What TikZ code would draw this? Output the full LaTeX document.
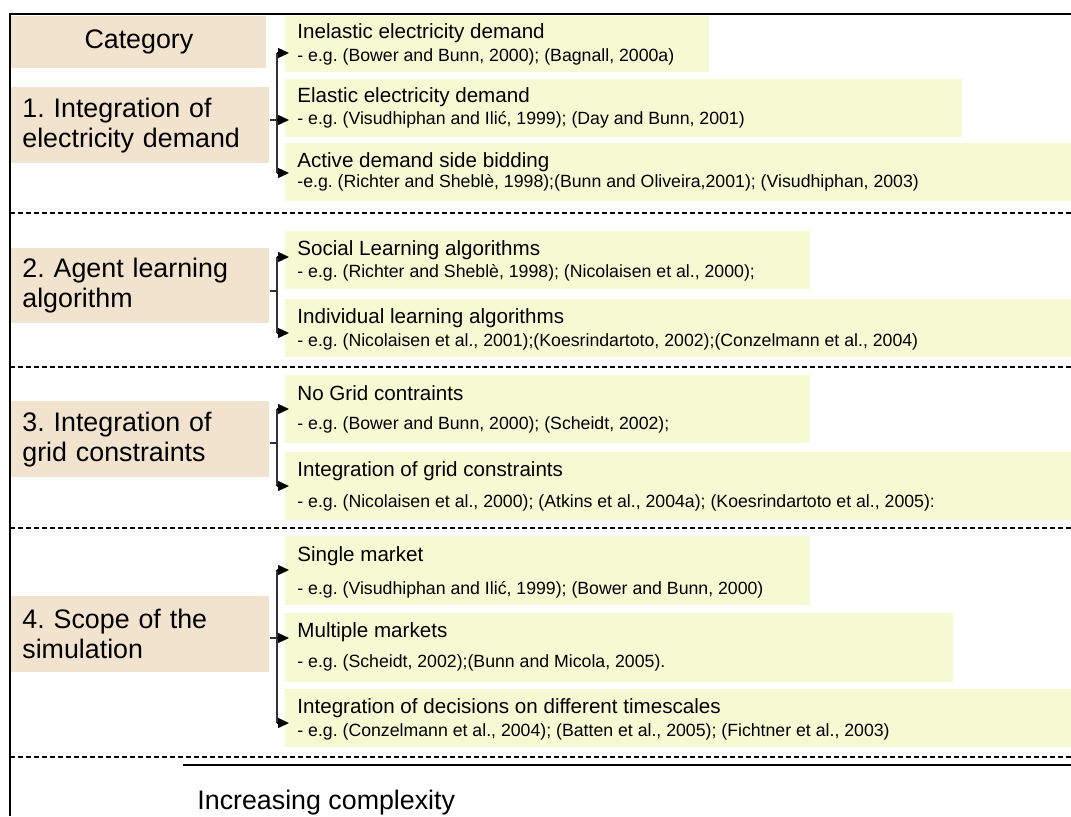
\documentclass[tikz,border=0pt]{standalone}
\usepackage{fontspec}
\setmainfont{Liberation Sans}
\usetikzlibrary{arrows.meta}
\definecolor{tanbox}{RGB}{242,227,207}
\definecolor{greenbox}{RGB}{246,250,211}
\definecolor{brackgray}{RGB}{50,50,50}
\frenchspacing

\begin{document}
\begin{tikzpicture}[x=0.5pt,y=-0.5pt,
	catbox/.style={fill=tanbox,anchor=north west,minimum width=129pt,minimum height=38pt,inner xsep=5.5pt,inner ysep=0pt,text width=118pt,align=left,font=\fontsize{13.4}{15}\selectfont},
	itembox/.style={fill=greenbox,anchor=north west,inner sep=0pt},
	title/.style={anchor=west,inner sep=0pt,font=\fontsize{10.3}{12}\selectfont},
	cite/.style={anchor=west,inner sep=0pt,font=\fontsize{8.85}{10}\selectfont},
	brk/.style={draw=brackgray,line width=0.65pt},
	tip/.style={-{Triangle[length=5.5pt,width=5pt]},black,line width=0.65pt,shorten >=-2pt},
	sep/.style={line width=0.6pt,dash pattern=on 2.5pt off 1.5pt}]
		\useasboundingbox (0,0) rectangle (1071,816);
		% frame
		\draw [line width=0.8pt] (1071,14) -- (10,14) -- (10,816);
		\draw [sep] (10,213) -- (1071,213);
		\draw [sep] (10,367) -- (1071,367);
		\draw [sep] (10,528) -- (1071,528);
		\draw [sep] (10,757) -- (1071,757);
		\draw [line width=1pt] (183,765) -- (1071,765);
		\node [anchor=west,inner sep=0pt,font=\fontsize{13.4}{15}\selectfont] (incr) at (197,803) {Increasing complexity};
		% categories
		\node [catbox,minimum width=127.5pt,minimum height=26pt,text width=116.5pt,align=center] (c0) at (11,16) {Category};
		\node [catbox] (c1) at (11,87) {1. Integration of\\electricity demand};
		\node [catbox,minimum height=37.5pt] (c2) at (11,248) {2. Agent learning\\algorithm};
		\node [catbox] (c3) at (11,401) {3. Integration of\\grid constraints};
		\node [catbox] (c4) at (11,596) {4. Scope of the\\simulation};
		% group 1
		\node [itembox,minimum width=212pt,minimum height=28pt] (d1) at (285,16) {};
		\node [title] (d1t) at (297,33) {Inelastic electricity demand};
		\node [cite] (d1c) at (297,57) {- e.g. (Bower and Bunn, 2000); (Bagnall, 2000a)};
		\node [itembox,minimum width=338.5pt,minimum height=29pt] (d2) at (285,79) {};
		\node [title] (d2t) at (297,97) {Elastic electricity demand};
		\node [cite] (d2c) at (297,120) {- e.g. (Visudhiphan and Ilić, 1999); (Day and Bunn, 2001)};
		\node [itembox,minimum width=393pt,minimum height=29pt] (d3) at (285,143) {};
		\node [title] (d3t) at (297,162) {Active demand side bidding};
		\node [cite] (d3c) at (297,183) {-e.g. (Richter and Sheblè, 1998);(Bunn and Oliveira,2001); (Visudhiphan, 2003)};
		% group 2
		\node [itembox,minimum width=262.5pt,minimum height=29pt] (d4) at (285,231) {};
		\node [title] (d4t) at (297,250) {Social Learning algorithms};
		\node [cite] (d4c) at (297,273) {- e.g. (Richter and Sheblè, 1998); (Nicolaisen et al., 2000);};
		\node [itembox,minimum width=393pt,minimum height=29pt] (d5) at (285,299) {};
		\node [title] (d5t) at (297,318) {Individual learning algorithms};
		\node [cite] (d5c) at (297,342) {- e.g. (Nicolaisen et al., 2001);(Koesrindartoto, 2002);(Conzelmann et al., 2004)};
		% group 3
		\node [itembox,minimum width=262.5pt,minimum height=34pt] (d6) at (285,375) {};
		\node [title] (d6t) at (297,393) {No Grid contraints};
		\node [cite] (d6c) at (297,425) {- e.g. (Bower and Bunn, 2000); (Scheidt, 2002);};
		\node [itembox,minimum width=393pt,minimum height=34pt] (d7) at (285,452) {};
		\node [title] (d7t) at (297,471) {Integration of grid constraints};
		\node [cite] (d7c) at (297,503) {- e.g. (Nicolaisen et al., 2000); (Atkins et al., 2004a); (Koesrindartoto et al., 2005):};
		% group 4
		\node [itembox,minimum width=262.5pt,minimum height=34.5pt] (d8) at (285,536) {};
		\node [title] (d8t) at (297,556) {Single market};
		\node [cite] (d8c) at (297,590) {- e.g. (Visudhiphan and Ilić, 1999); (Bower and Bunn, 2000)};
		\node [itembox,minimum width=334pt,minimum height=34.5pt] (d9) at (285,613) {};
		\node [title] (d9t) at (297,632) {Multiple markets};
		\node [cite] (d9c) at (297,663) {- e.g. (Scheidt, 2002);(Bunn and Micola, 2005).};
		\node [itembox,minimum width=393pt,minimum height=29pt] (d10) at (285,689) {};
		\node [title] (d10t) at (297,708) {Integration of decisions on different timescales};
		\node [cite] (d10c) at (297,732) {- e.g. (Conzelmann et al., 2004); (Batten et al., 2005); (Fichtner et al., 2003)};
		% brackets
		\coordinate (a1) at (277,53);
		\coordinate (a2) at (277,120);
		\coordinate (a3) at (277,173);
		\draw [brk] (c1.east |- a2) -- (a2);
		\draw [brk] (a1) -- (a3);
		\draw [tip] (a1) -- (a1 -| d1.west);
		\draw [tip] (a2) -- (a2 -| d2.west);
		\draw [tip] (a3) -- (a3 -| d3.west);
		\coordinate (a4) at (277,257);
		\coordinate (a5) at (277,333);
		\coordinate (j2) at (277,291);
		\draw [brk] (c2.east |- j2) -- (j2);
		\draw [brk] (a4) -- (a5);
		\draw [tip] (a4) -- (a4 -| d4.west);
		\draw [tip] (a5) -- (a5 -| d5.west);
		\coordinate (a6) at (277,409);
		\coordinate (a7) at (277,486);
		\coordinate (j3) at (277,443);
		\draw [brk] (c3.east |- j3) -- (j3);
		\draw [brk] (a6) -- (a7);
		\draw [tip] (a6) -- (a6 -| d6.west);
		\draw [tip] (a7) -- (a7 -| d7.west);
		\coordinate (a8) at (277,570);
		\coordinate (a9) at (277,638);
		\coordinate (a10) at (277,723);
		\draw [brk] (c4.east |- a9) -- (a9);
		\draw [brk] (a8) -- (a10);
		\draw [tip] (a8) -- (a8 -| d8.west);
		\draw [tip] (a9) -- (a9 -| d9.west);
		\draw [tip] (a10) -- (a10 -| d10.west);
	\end{tikzpicture}
\end{document}
